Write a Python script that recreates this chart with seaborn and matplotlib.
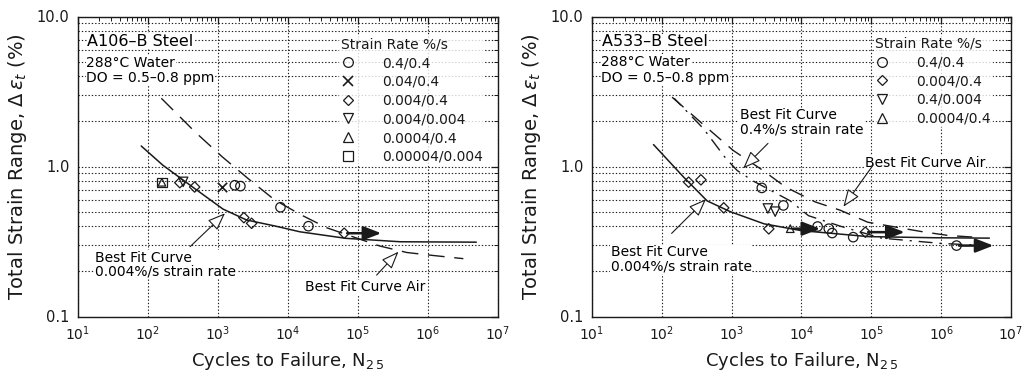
import numpy as np
import pandas as pd
import matplotlib
matplotlib.use("Agg")
import matplotlib.pyplot as plt
from matplotlib.ticker import LogLocator, NullFormatter
from matplotlib.lines import Line2D
import seaborn as sns

# ---------------- data ----------------
# Left panel: A106-B steel
L_circle_N = [1740, 2090, 7800, 19600]
L_circle_e = [0.75, 0.74, 0.535, 0.40]
L_x_N = [1140]
L_x_e = [0.73]
L_diamond_N = [285, 464, 2340, 3020, 63500]
L_diamond_e = [0.78, 0.73, 0.456, 0.418, 0.359]
L_dtri_N = [318]
L_dtri_e = [0.79]
L_utri_N = [158]
L_utri_e = [0.785]
L_square_N = [158]
L_square_e = [0.785]
L_runout_start = [70000]
L_runout_end = [215000]
L_runout_e = [0.359]

L_fit_N = [80, 163, 490, 1180, 2560, 6700, 14800, 67000, 400000, 4900000]
L_fit_e = [1.37, 1.02, 0.70, 0.52, 0.44, 0.40, 0.367, 0.332, 0.315, 0.313]
L_air_N = [155, 464, 1150, 2700, 6400, 15500, 36000, 205000, 500000, 1200000, 3200000]
L_air_e = [2.85, 1.71, 1.16, 0.83, 0.60, 0.475, 0.39, 0.295, 0.267, 0.255, 0.243]

# Right panel: A533-B steel
R_circle_N = [2700, 5500, 17000, 24600, 27500, 55000, 1660000]
R_circle_e = [0.72, 0.55, 0.398, 0.385, 0.36, 0.338, 0.297]
R_diamond_N = [242, 363, 770, 3400, 82000]
R_diamond_e = [0.786, 0.815, 0.53, 0.384, 0.365]
R_dtri_N = [3300, 4200]
R_dtri_e = [0.525, 0.50]
R_utri_N = [6900]
R_utri_e = [0.385]
R_runout_start = [7600, 90000, 1800000]
R_runout_end = [18500, 300000, 5600000]
R_runout_e = [0.385, 0.365, 0.297]

R_fit_N = [76, 205, 445, 955, 2900, 9800, 89000, 800000, 4900000]
R_fit_e = [1.40, 0.85, 0.59, 0.50, 0.415, 0.374, 0.341, 0.335, 0.333]
R_air_N = [140, 445, 1050, 2820, 5900, 15800, 36300, 89000, 510000, 1250000, 3000000]
R_air_e = [2.9, 1.81, 1.28, 0.94, 0.73, 0.58, 0.51, 0.425, 0.369, 0.347, 0.338]
R_fast_N = [150, 394, 815, 1200, 2040, 6900, 12600, 36000, 140000, 1000000, 4400000]
R_fast_e = [2.85, 1.79, 1.14, 0.94, 0.80, 0.59, 0.47, 0.40, 0.333, 0.307, 0.297]

L_labels = ["0.4/0.4", "0.04/0.4", "0.004/0.4", "0.004/0.004", "0.0004/0.4", "0.00004/0.004"]
R_labels = ["0.4/0.4", "0.004/0.4", "0.4/0.004", "0.0004/0.4"]
x_ticks = [1e1, 1e2, 1e3, 1e4, 1e5, 1e6, 1e7]
x_ticklabels = [r"10$^{%d}$" % i for i in range(1, 8)]
y_ticks = [0.1, 1.0, 10.0]
y_ticklabels = ["0.1", "1.0", "10.0"]

# ---------------- style ----------------
sns.set_theme(style="white")
plt.rcParams["font.family"] = ["DejaVu Sans"]
plt.rcParams["mathtext.fontset"] = "dejavusans"
plt.rcParams["text.color"] = "black"
plt.rcParams["axes.labelcolor"] = "black"
plt.rcParams["xtick.color"] = "black"
plt.rcParams["ytick.color"] = "black"
plt.rcParams["legend.labelcolor"] = "black"

fig = plt.figure(figsize=(10.3, 3.83), dpi=100)
fig.patch.set_facecolor("white")
H = 383.0
axL = fig.add_axes([78 / 1030, (H - 316.5) / H, 420 / 1030, 300 / H])
axR = fig.add_axes([592 / 1030, (H - 316.5) / H, 419 / 1030, 300 / H])

MK = dict(s=46, facecolors="none", edgecolor="k", linewidth=0.9, legend=False, zorder=4)
TXT = 10.0
SMALL = 10.0


def setup(ax):
    ax.set_xscale("log")
    ax.set_yscale("log")
    ax.set_xlim(10, 1e7)
    ax.set_ylim(0.1, 10)
    ax.set_xticks(x_ticks)
    ax.set_xticklabels(x_ticklabels, fontsize=10)
    ax.set_yticks(y_ticks)
    ax.set_yticklabels(y_ticklabels, fontsize=10.5)
    ax.xaxis.set_minor_locator(LogLocator(base=10, subs=np.arange(2, 10)))
    ax.yaxis.set_minor_locator(LogLocator(base=10, subs=np.arange(2, 10)))
    ax.xaxis.set_minor_formatter(NullFormatter())
    ax.yaxis.set_minor_formatter(NullFormatter())
    ax.tick_params(which="both", direction="in", top=True, right=True, colors="k")
    ax.tick_params(which="major", length=5, width=0.9, pad=6)
    ax.tick_params(which="minor", length=3, width=0.7)
    ax.grid(True, which="major", axis="x", ls=(0, (1.2, 1.8)), color="k", lw=0.8)
    ax.grid(True, which="both", axis="y", ls=(0, (1.2, 1.8)), color="k", lw=0.8)
    for sp in ax.spines.values():
        sp.set_color("k")
        sp.set_linewidth(1.0)
    ax.set_xlabel(r"Cycles to Failure, N$_{2\,5}$", fontsize=13, labelpad=5, color="k")
    ax.set_ylabel(r"Total Strain Range, $\Delta\,\varepsilon_t$ (%)", fontsize=14,
                  labelpad=6, color="k")


def runouts(ax, s, e, y):
    for a, b, v in zip(s, e, y):
        ax.annotate("", xy=(b, v), xytext=(a, v),
                    arrowprops=dict(arrowstyle="-|>,head_length=0.9,head_width=0.35",
                                    color="k", lw=1.8, shrinkA=0, shrinkB=0), zorder=5)


def hollow_arrow(ax, start, end):
    ax.annotate("", xy=end, xytext=start, xycoords="axes fraction", textcoords="axes fraction",
                arrowprops=dict(arrowstyle="-|>,head_length=0.9,head_width=0.35",
                                fc="white", ec="k", lw=0.8, shrinkA=0, shrinkB=0))


def make_legend(ax, handles, labels, x, y):
    leg = ax.legend(handles, labels, title="Strain Rate %/s", loc="upper left",
                    bbox_to_anchor=(x, y), frameon=True, fontsize=10, title_fontsize=10,
                    handlelength=1.0, handletextpad=2.0, labelspacing=0.34, borderpad=0.1,
                    borderaxespad=0)
    leg._legend_box.align = "left"
    leg.get_frame().set_facecolor("white")
    leg.get_frame().set_edgecolor("none")
    leg.get_title().set_color("k")
    for t in leg.get_texts():
        t.set_color("k")
    return leg


# ---------------- left panel ----------------
ax = axL
setup(ax)
sns.lineplot(x=L_fit_N, y=L_fit_e, ax=ax, color="k", lw=1.1, estimator=None, sort=False)
sns.lineplot(x=L_air_N, y=L_air_e, ax=ax, color="k", lw=1.0, estimator=None, sort=False,
             linestyle=(0, (12, 7)))
sns.scatterplot(x=L_circle_N, y=L_circle_e, marker="o", ax=ax, **MK)
sns.scatterplot(x=L_diamond_N, y=L_diamond_e, marker="D", ax=ax, **{**MK, "s": 28})
sns.scatterplot(x=L_dtri_N, y=L_dtri_e, marker="v", ax=ax, **MK)
sns.scatterplot(x=L_utri_N, y=L_utri_e, marker="^", ax=ax, **{**MK, "s": 30})
sns.scatterplot(x=L_square_N, y=L_square_e, marker="s", ax=ax, **MK)
sns.scatterplot(x=L_x_N, y=L_x_e, marker="x", ax=ax, color="k", s=46, linewidth=1.2,
                legend=False, zorder=4)
runouts(ax, L_runout_start, L_runout_end, L_runout_e)

ax.text(0.022, 0.918, "A106\u2013B Steel", transform=ax.transAxes, fontsize=11.5,
        va="center", ha="left", bbox=dict(fc="white", ec="none", pad=0.5))
ax.text(0.02, 0.845, "288\u00b0C Water", transform=ax.transAxes, fontsize=TXT,
        va="center", ha="left", bbox=dict(fc="white", ec="none", pad=0.5))
ax.text(0.02, 0.795, "DO = 0.5\u20130.8 ppm", transform=ax.transAxes, fontsize=TXT,
        va="center", ha="left", bbox=dict(fc="white", ec="none", pad=0.5))
ax.text(0.041, 0.173, "Best Fit Curve\n0.004%/s strain rate", transform=ax.transAxes,
        fontsize=SMALL, va="center", ha="left", linespacing=1.0,
        bbox=dict(fc="white", ec="none", pad=0.3))
hollow_arrow(ax, (0.267, 0.233), (0.35, 0.344))
ax.text(0.54, 0.098, "Best Fit Curve Air", transform=ax.transAxes, fontsize=SMALL,
        va="center", ha="left", bbox=dict(fc="white", ec="none", pad=0.3))
hollow_arrow(ax, (0.711, 0.138), (0.763, 0.216))

mk_left = ["o", "x", "D", "v", "^", "s"]
handles = []
for m in mk_left:
    if m == "x":
        handles.append(Line2D([], [], marker="x", ls="none", color="k", ms=7, mew=1.2))
    else:
        handles.append(Line2D([], [], marker=m, ls="none", mfc="none", mec="k",
                              ms=5.5 if m == "D" else 7, mew=0.9))
make_legend(ax, handles, L_labels, 0.622, 0.935)

# ---------------- right panel ----------------
ax = axR
setup(ax)
sns.lineplot(x=R_fit_N, y=R_fit_e, ax=ax, color="k", lw=1.1, estimator=None, sort=False)
sns.lineplot(x=R_air_N, y=R_air_e, ax=ax, color="k", lw=1.0, estimator=None, sort=False,
             linestyle=(0, (11, 7)))
sns.lineplot(x=R_fast_N, y=R_fast_e, ax=ax, color="k", lw=1.0, estimator=None, sort=False,
             linestyle=(3, (10, 5, 1.5, 5)))
sns.scatterplot(x=R_circle_N, y=R_circle_e, marker="o", ax=ax, **MK)
sns.scatterplot(x=R_diamond_N, y=R_diamond_e, marker="D", ax=ax, **{**MK, "s": 28})
sns.scatterplot(x=R_dtri_N, y=R_dtri_e, marker="v", ax=ax, **MK)
sns.scatterplot(x=R_utri_N, y=R_utri_e, marker="^", ax=ax, **{**MK, "s": 30})
runouts(ax, R_runout_start, R_runout_end, R_runout_e)

ax.text(0.024, 0.915, "A533\u2013B Steel", transform=ax.transAxes, fontsize=11.5,
        va="center", ha="left", bbox=dict(fc="white", ec="none", pad=0.5))
ax.text(0.022, 0.848, "288\u00b0C Water", transform=ax.transAxes, fontsize=TXT,
        va="center", ha="left", bbox=dict(fc="white", ec="none", pad=0.5))
ax.text(0.022, 0.795, "DO = 0.5\u20130.8 ppm", transform=ax.transAxes, fontsize=TXT,
        va="center", ha="left", bbox=dict(fc="white", ec="none", pad=0.5))
ax.text(0.353, 0.648, "Best Fit Curve\n0.4%/s strain rate", transform=ax.transAxes,
        fontsize=SMALL, va="center", ha="left", linespacing=1.0,
        bbox=dict(fc="white", ec="none", pad=0.3))
hollow_arrow(ax, (0.42, 0.577), (0.361, 0.494))
ax.text(0.652, 0.512, "Best Fit Curve Air", transform=ax.transAxes, fontsize=SMALL,
        va="center", ha="left", bbox=dict(fc="white", ec="none", pad=0.3))
hollow_arrow(ax, (0.671, 0.505), (0.6, 0.366))
ax.text(0.045, 0.19, "Best Fit Curve\n0.004%/s strain rate", transform=ax.transAxes,
        fontsize=SMALL, va="center", ha="left", linespacing=1.0,
        bbox=dict(fc="white", ec="none", pad=0.3))
hollow_arrow(ax, (0.19, 0.277), (0.272, 0.391))

mk_right = ["o", "D", "v", "^"]
handles = [Line2D([], [], marker=m, ls="none", mfc="none", mec="k",
                  ms=5.5 if m == "D" else 7, mew=0.9) for m in mk_right]
make_legend(ax, handles, R_labels, 0.672, 0.937)

fig.savefig("out.png", dpi=100, facecolor="white")
